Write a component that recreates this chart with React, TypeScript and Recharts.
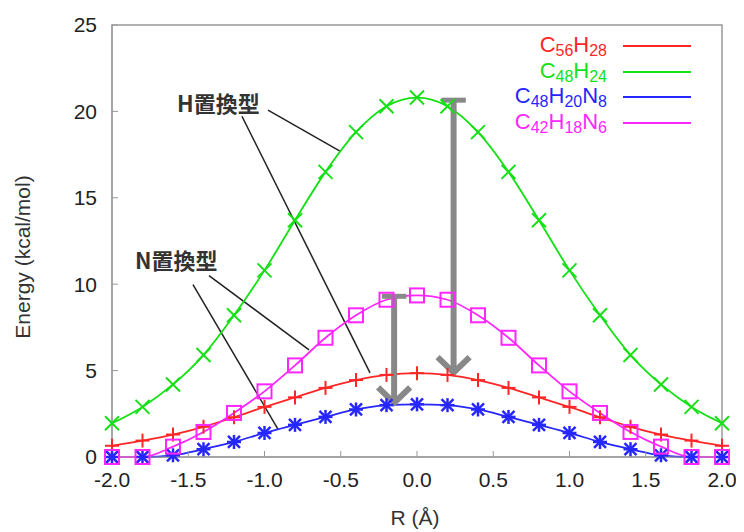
import React from 'react';
import { LineChart, Line, XAxis, YAxis, ReferenceLine, ReferenceArea } from 'recharts';

// R (Å) sample positions
const rValues = [-2.0, -1.8, -1.6, -1.4, -1.2, -1.0, -0.8, -0.6, -0.4, -0.2, 0.0, 0.2, 0.4, 0.6, 0.8, 1.0, 1.2, 1.4, 1.6, 1.8, 2.0];

// energies (kcal/mol)
const c56h28 = [0.65, 0.95, 1.3, 1.75, 2.3, 2.9, 3.45, 4.0, 4.45, 4.75, 4.85, 4.75, 4.45, 4.0, 3.45, 2.9, 2.3, 1.75, 1.3, 0.95, 0.65];
const c48h24 = [1.95, 2.9, 4.2, 5.9, 8.2, 10.8, 13.7, 16.5, 18.8, 20.3, 20.8, 20.3, 18.8, 16.5, 13.7, 10.8, 8.2, 5.9, 4.2, 2.9, 1.95];
const c48h20n8 = [0, 0, 0.1, 0.45, 0.87, 1.39, 1.86, 2.32, 2.75, 3.0, 3.05, 3.0, 2.75, 2.32, 1.86, 1.39, 0.87, 0.45, 0.1, 0, 0];
const c42h18n6 = [0, 0, 0.6, 1.45, 2.55, 3.8, 5.3, 6.9, 8.2, 9.1, 9.35, 9.1, 8.2, 6.9, 5.3, 3.8, 2.55, 1.45, 0.6, 0, 0];

const xTicks = [-2.0, -1.5, -1.0, -0.5, 0.0, 0.5, 1.0, 1.5, 2.0];
const yTicks = [0, 5, 10, 15, 20, 25];

// annotation leader lines (data coords)
const hLeaders = [
  [{ x: -0.977, y: 20.07 }, { x: -0.505, y: 17.7 }],
  [{ x: -1.148, y: 19.72 }, { x: -0.308, y: 4.87 }],
];
const nLeaders = [
  [{ x: -1.364, y: 10.5 }, { x: -0.708, y: 6.2 }],
  [{ x: -1.469, y: 9.98 }, { x: -0.911, y: 1.6 }],
];
// gray arrows: x, top, tip
const arrows = [
  { x: -0.15, top: 9.3, tip: 3.1 },
  { x: 0.24, top: 20.65, tip: 4.85 },
];

const data = rValues.map((r, i) => ({
  r,
  c56h28: c56h28[i],
  c48h24: c48h24[i],
  c48h20n8: c48h20n8[i],
  c42h18n6: c42h18n6[i],
}));

const RED = '#ff2626';
const GREEN = '#14e014';
const BLUE = '#2626ff';
const MAGENTA = '#ff26ff';
const FONT = '"Liberation Sans", Arial, sans-serif';

const Plus = (props: any) => {
  const { cx, cy } = props;
  return (
    <g stroke={RED} strokeWidth={2}>
      <line x1={cx - 7} y1={cy} x2={cx + 7} y2={cy} />
      <line x1={cx} y1={cy - 7} x2={cx} y2={cy + 7} />
    </g>
  );
};
const Cross = (props: any) => {
  const { cx, cy } = props;
  return (
    <g stroke={GREEN} strokeWidth={2}>
      <line x1={cx - 7} y1={cy - 7} x2={cx + 7} y2={cy + 7} />
      <line x1={cx - 7} y1={cy + 7} x2={cx + 7} y2={cy - 7} />
    </g>
  );
};
const Star = (props: any) => {
  const { cx, cy } = props;
  return (
    <g stroke={BLUE} strokeWidth={2.5}>
      <line x1={cx - 7} y1={cy} x2={cx + 7} y2={cy} />
      <line x1={cx} y1={cy - 7} x2={cx} y2={cy + 7} />
      <line x1={cx - 6} y1={cy - 6} x2={cx + 6} y2={cy + 6} />
      <line x1={cx - 6} y1={cy + 6} x2={cx + 6} y2={cy - 6} />
    </g>
  );
};
const Square = (props: any) => {
  const { cx, cy } = props;
  return <rect x={cx - 7} y={cy - 7} width={14} height={14} fill="none" stroke={MAGENTA} strokeWidth={2} />;
};

const legendItems = [
  { color: RED, parts: [['C', '56'], ['H', '28']] },
  { color: GREEN, parts: [['C', '48'], ['H', '24']] },
  { color: BLUE, parts: [['C', '48'], ['H', '20'], ['N', '8']] },
  { color: MAGENTA, parts: [['C', '42'], ['H', '18'], ['N', '6']] },
];

const tickStyle = { fill: '#222', fontSize: 21, fontFamily: FONT };
const noteStyle: React.CSSProperties = {
  position: 'absolute',
  fontSize: 22,
  fontWeight: 'bold',
  color: '#333',
  fontFamily: '"Noto Sans CJK JP", sans-serif',
  whiteSpace: 'nowrap',
  lineHeight: '24px',
};

export default function App() {
  return (
    <div style={{ position: 'relative', width: 736, height: 524, fontFamily: FONT }}>
      <LineChart width={736} height={524} data={data} margin={{ top: 17, right: 22, bottom: 45, left: 44 }}>
        <XAxis
          dataKey="r"
          type="number"
          domain={[-2, 2]}
          ticks={xTicks}
          tickFormatter={(v: number) => v.toFixed(1)}
          stroke="#999"
          tickSize={-6}
          tickMargin={21}
          height={30}
          tick={tickStyle}
          interval={0}
        />
        <XAxis
          xAxisId="top"
          orientation="top"
          dataKey="r"
          type="number"
          domain={[-2, 2]}
          ticks={xTicks}
          stroke="#999"
          tickSize={-6}
          height={0}
          tick={false}
        />
        <YAxis
          type="number"
          domain={[0, 25]}
          ticks={yTicks}
          stroke="#999"
          tickSize={-6}
          tickMargin={21}
          width={60}
          tick={tickStyle}
          interval={0}
        />
        <YAxis
          yAxisId="right"
          orientation="right"
          type="number"
          domain={[0, 25]}
          ticks={yTicks}
          stroke="#999"
          tickSize={-6}
          width={0}
          tick={false}
        />
        <ReferenceArea x1={-2} x2={2} y1={0} y2={25} fill="none" stroke="#999" strokeWidth={1.5} />
        {[...hLeaders, ...nLeaders].map((seg, i) => (
          <ReferenceLine key={'l' + i} segment={seg} stroke="#222" strokeWidth={1.5} ifOverflow="visible" />
        ))}
        <Line type="monotone" dataKey="c56h28" stroke={RED} strokeWidth={1.8} dot={<Plus />} isAnimationActive={false} />
        <Line type="monotone" dataKey="c48h24" stroke={GREEN} strokeWidth={1.8} dot={<Cross />} isAnimationActive={false} />
        <Line type="monotone" dataKey="c48h20n8" stroke={BLUE} strokeWidth={1.8} dot={<Star />} isAnimationActive={false} />
        <Line type="monotone" dataKey="c42h18n6" stroke={MAGENTA} strokeWidth={1.8} dot={<Square />} isAnimationActive={false} />
        {arrows.map((a, i) => [
          <ReferenceLine key={'a' + i} segment={[{ x: a.x, y: a.top }, { x: a.x, y: a.tip + 0.2 }]} stroke="#888" strokeWidth={6} ifOverflow="visible" />,
          <ReferenceLine key={'t' + i} segment={[{ x: a.x - 0.08, y: a.top }, { x: a.x + 0.08, y: a.top }]} stroke="#888" strokeWidth={5} ifOverflow="visible" />,
          <ReferenceLine key={'h1' + i} segment={[{ x: a.x - 0.105, y: a.tip + 0.93 }, { x: a.x + 0.01, y: a.tip - 0.05 }]} stroke="#888" strokeWidth={6} ifOverflow="visible" />,
          <ReferenceLine key={'h2' + i} segment={[{ x: a.x + 0.105, y: a.tip + 0.93 }, { x: a.x - 0.01, y: a.tip - 0.05 }]} stroke="#888" strokeWidth={6} ifOverflow="visible" />,
        ])}
      </LineChart>

      {/* legend */}
      {legendItems.map((it, i) => (
        <div key={i} style={{ position: 'absolute', left: 449, top: 26 + i * 25.5, width: 240, height: 24, display: 'flex', alignItems: 'center' }}>
          <div style={{ width: 150, textAlign: 'right', color: it.color, fontSize: 22, lineHeight: '24px' }}>
            {it.parts.map(([el, n], j) => (
              <span key={j}>
                {el}
                <span style={{ fontSize: 16, position: 'relative', top: 4 }}>{n}</span>
              </span>
            ))}
          </div>
          <div style={{ marginLeft: 16, width: 68, height: 2, background: it.color }} />
        </div>
      ))}

      {/* annotation labels */}
      <div style={{ ...noteStyle, left: 169, top: 82 }}>H置換型</div>
      <div style={{ ...noteStyle, left: 127, top: 239 }}>N置換型</div>

      {/* axis titles */}
      <div style={{ position: 'absolute', left: 0, top: 498, width: 814, textAlign: 'center', fontSize: 21, color: '#333' }}>
        R (Å)
      </div>
      <div style={{ position: 'absolute', left: 15, top: 249, width: 0, height: 0 }}>
        <div style={{ position: 'absolute', transform: 'translate(-50%, -50%) rotate(-90deg)', whiteSpace: 'nowrap', fontSize: 21, color: '#333' }}>
          Energy (kcal/mol)
        </div>
      </div>
    </div>
  );
}
